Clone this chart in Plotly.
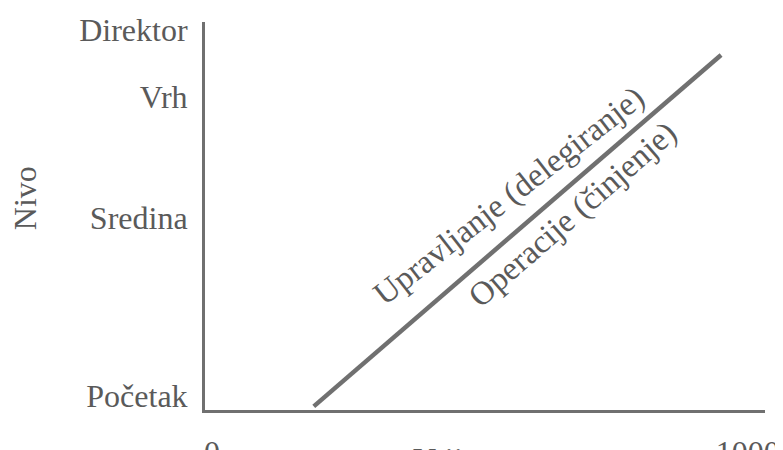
import plotly.graph_objects as go

# Data
level_names = ["Početak", "Sredina", "Vrh", "Direktor"]
level_values = [0, 48.5, 81.5, 100]
x_ticks = [0, 1000]
x_tick_labels = ["0", "1000"]
line_x = [190, 950]
line_y = [-3, 93]
label_upper = "Upravljanje (delegiranje)"
label_lower = "Operacije (činjenje)"
x_title = "Vrijeme"
y_title = "Nivo"

FONT = "Liberation Serif"
TXT = "#5a5a5a"
LINE = "#707070"

fig = go.Figure()
fig.add_trace(go.Scatter(x=line_x, y=line_y, mode="lines",
                         line=dict(color=LINE, width=4.5), hoverinfo="skip",
                         showlegend=False))

fig.add_annotation(x=556, y=54.5, xref="x", yref="y", text=label_upper,
                   textangle=-38, showarrow=False,
                   xanchor="center", yanchor="middle",
                   font=dict(family=FONT, size=33, color=TXT))
fig.add_annotation(x=673, y=49.5, xref="x", yref="y", text=label_lower,
                   textangle=-41, showarrow=False,
                   xanchor="center", yanchor="middle",
                   font=dict(family=FONT, size=33, color=TXT))
fig.add_annotation(x=-0.3214, y=0.546, xref="paper", yref="paper", text=y_title,
                   textangle=-90, showarrow=False,
                   xanchor="center", yanchor="middle",
                   font=dict(family=FONT, size=32, color=TXT))
fig.add_annotation(x=0.4625, y=-0.075, xref="paper", yref="paper", text=x_title,
                   xanchor="center", yanchor="top", showarrow=False,
                   font=dict(family=FONT, size=32, color=TXT))

fig.update_layout(
    width=783, height=450,
    margin=dict(l=197, r=26, t=14, b=48),
    paper_bgcolor="white", plot_bgcolor="white",
    font=dict(family=FONT, size=32, color=TXT),
    xaxis=dict(range=[-13, 1032], tickvals=x_ticks, ticktext=x_tick_labels,
               showgrid=False, zeroline=False, showline=True, automargin=False,
               linecolor=LINE, linewidth=3, ticks="outside", ticklen=12,
               tickcolor="rgba(0,0,0,0)", tickfont=dict(size=32, color=TXT)),
    yaxis=dict(range=[-4, 102], tickvals=level_values, ticktext=level_names,
               showgrid=False, zeroline=False, showline=True, automargin=False,
               linecolor=LINE, linewidth=3, ticks="outside", ticklen=8,
               tickcolor="rgba(0,0,0,0)", tickfont=dict(size=32, color=TXT)),
)

fig.write_html("out.html")
